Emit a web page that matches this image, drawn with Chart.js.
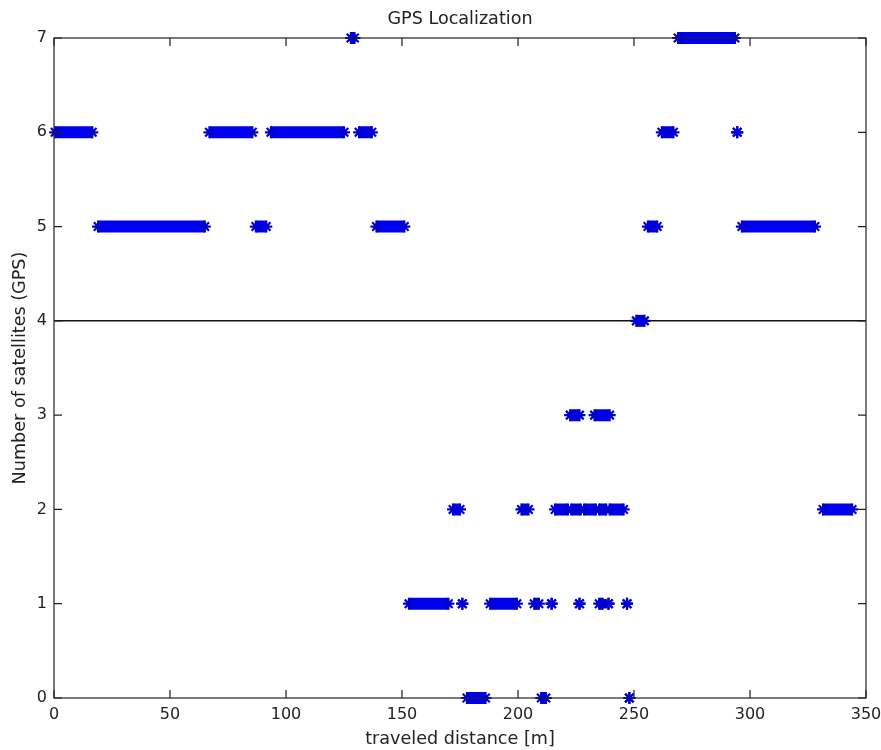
<!DOCTYPE html>
<html>
<head>
<meta charset="utf-8">
<title>GPS Localization</title>
<script src="https://cdn.jsdelivr.net/npm/chart.js@4.4.1/dist/chart.umd.min.js"></script>
<style>
  html, body { margin: 0; padding: 0; background: #fff; }
  #wrap { width: 881px; height: 750px; }
</style>
</head>
<body>
<div id="wrap"><canvas id="gpsChart" width="881" height="750"></canvas></div>
<script>
// runs of readings [start, end] in meters for each number of satellites
var sats7 = [[128, 129.5], [269, 293.5]];
var sats6 = [[0.5, 16.5], [67, 85.5], [93.5, 125], [131.5, 137], [262, 267], [294.5, 294.5]];
var sats5 = [[19, 65], [87, 91.5], [139, 151], [256, 260], [296.5, 328]];
var sats4 = [[251, 254.5]];
var sats3 = [[222.5, 226.5], [233, 239.5]];
var sats2 = [[172, 175], [201.5, 204.5], [216, 221.5], [223, 227], [228.5, 233.5], [235, 238], [239.5, 245.5], [331.5, 344]];
var sats1 = [[153, 170], [176, 176], [188, 199.5], [207, 209], [214.5, 214.5], [226.5, 226.5], [235, 236.5], [239, 239], [247, 247]];
var sats0 = [[178, 186], [210, 212], [248, 248]];

var levels = [0, 1, 2, 3, 4, 5, 6, 7];
var runsPerLevel = [sats0, sats1, sats2, sats3, sats4, sats5, sats6, sats7];

// tick labels
var xTicks = [0, 50, 100, 150, 200, 250, 300, 350];
var yTicks = [0, 1, 2, 3, 4, 5, 6, 7];

var FONT = 'DejaVu Sans';
var BLUE = '#0000f0';

// convertir cada tramo en dos puntos, separados por un hueco
function buildPoints(runs, level) {
    var pts = [];
    runs.forEach(function (r) {
        pts.push({ x: r[0], y: level });
        pts.push({ x: r[1], y: level });
        pts.push({ x: r[1], y: null });
    });
    return pts;
}

var datasets = levels.map(function (lvl, i) {
    return {
        label: lvl + ' satellites',
        data: buildPoints(runsPerLevel[i], lvl),
        showLine: true,
        spanGaps: false,
        borderColor: BLUE,
        borderWidth: 12,
        borderCapStyle: 'butt',
        pointStyle: 'star',
        pointRadius: 6,
        pointBorderWidth: 2.2,
        pointBorderColor: '#0000d0',
        pointBackgroundColor: BLUE,
        pointHoverRadius: 6,
        clip: false
    };
});

// caja estilo matlab con marcas hacia adentro
var boxPlugin = {
    id: 'matlabBox',
    afterDraw: function (chart) {
        var ctx = chart.ctx;
        var a = chart.chartArea;
        var xs = chart.scales.x, ys = chart.scales.y;
        var tl = 8;
        ctx.save();
        ctx.strokeStyle = '#222';
        ctx.lineWidth = 1.2;
        ctx.strokeRect(a.left, a.top, a.right - a.left, a.bottom - a.top);
        ctx.beginPath();
        xTicks.forEach(function (v) {
            var px = xs.getPixelForValue(v);
            ctx.moveTo(px, a.bottom); ctx.lineTo(px, a.bottom - tl);
            ctx.moveTo(px, a.top); ctx.lineTo(px, a.top + tl);
        });
        yTicks.forEach(function (v) {
            var py = ys.getPixelForValue(v);
            ctx.moveTo(a.left, py); ctx.lineTo(a.left + tl, py);
            ctx.moveTo(a.right, py); ctx.lineTo(a.right - tl, py);
        });
        ctx.stroke();
        ctx.restore();
    }
};

// fijar margenes de los ejes horizontales
function fitHorizontal(h) {
    return function (scale) {
        scale.height = h;
        scale.paddingLeft = 0;
        scale.paddingRight = 15;
    };
}

var ctx = document.getElementById('gpsChart').getContext('2d');
var gpsChart = new Chart(ctx, {
    type: 'scatter',
    data: { datasets: datasets },
    options: {
        responsive: false,
        animation: false,
        layout: { padding: { left: 0, right: 0, top: 0, bottom: 0 } },
        plugins: {
            legend: { display: false },
            tooltip: { enabled: false },
            title: { display: false }
        },
        scales: {
            x: {
                type: 'linear',
                min: 0,
                max: 350,
                afterBuildTicks: function (scale) {
                    scale.ticks = xTicks.map(function (v) { return { value: v }; });
                },
                afterFit: fitHorizontal(52),
                grid: { display: false, drawTicks: false },
                border: { display: false },
                ticks: {
                    color: '#222',
                    padding: 7,
                    maxRotation: 0,
                    font: { family: FONT, size: 16 }
                },
                title: {
                    display: true,
                    text: 'traveled distance [m]',
                    color: '#222',
                    font: { family: FONT, size: 17.6 },
                    padding: { top: 0, bottom: 0 }
                }
            },
            // eje superior solo para el titulo, centrado sobre el area
            x2: {
                type: 'linear',
                position: 'top',
                min: 0,
                max: 350,
                afterFit: fitHorizontal(38),
                grid: { display: false, drawTicks: false },
                border: { display: false },
                ticks: { display: false },
                title: {
                    display: true,
                    text: 'GPS Localization',
                    color: '#222',
                    font: { family: FONT, size: 17.6 },
                    padding: { top: 9, bottom: 0 }
                }
            },
            y: {
                type: 'linear',
                min: 0,
                max: 7,
                afterBuildTicks: function (scale) {
                    scale.ticks = yTicks.map(function (v) { return { value: v }; });
                },
                afterFit: function (scale) { scale.width = 54; },
                grid: {
                    drawTicks: false,
                    lineWidth: 1.5,
                    color: function (c) {
                        return (c.tick && c.tick.value === 4) ? '#111' : 'rgba(0,0,0,0)';
                    }
                },
                border: { display: false },
                ticks: {
                    color: '#222',
                    padding: 7,
                    font: { family: FONT, size: 16 }
                },
                title: {
                    display: true,
                    text: 'Number of satellites (GPS)',
                    color: '#222',
                    font: { family: FONT, size: 17.6 },
                    padding: { top: 9.4, bottom: 0 }
                }
            }
        }
    },
    plugins: [boxPlugin]
});
</script>
</body>
</html>
